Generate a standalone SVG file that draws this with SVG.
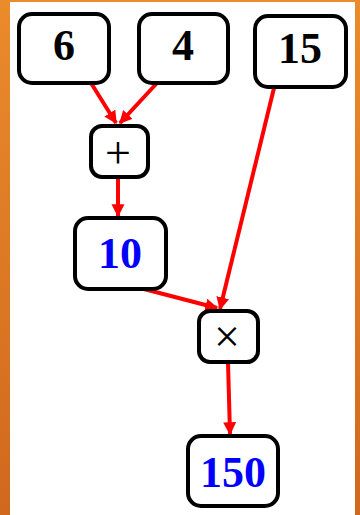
<svg xmlns="http://www.w3.org/2000/svg" width="360" height="515" viewBox="0 0 360 515">
<defs>
<linearGradient id="og" x1="0" y1="0" x2="0" y2="1">
<stop offset="0" stop-color="#EA8B2C"/>
<stop offset="1" stop-color="#D0681E"/>
</linearGradient>
<marker id="ah" viewBox="0 0 10 10" refX="9" refY="5" markerWidth="13" markerHeight="15" markerUnits="userSpaceOnUse" orient="auto">
<path d="M0,0 L10,5 L0,10 z" fill="#FF0000"/>
</marker>
<style>
.box{fill:#fff;stroke:#000;stroke-width:4}
.num{font-family:"Liberation Serif",serif;font-weight:bold;font-size:44px;text-anchor:middle}
.op{font-family:"Liberation Serif",serif;font-size:46px;text-anchor:middle;fill:#000}
.edge{stroke:#FF0000;stroke-width:4;fill:none;marker-end:url(#ah)}
</style>
</defs>
<rect x="0" y="0" width="360" height="515" fill="#fff"/>
<rect x="0" y="0" width="10" height="515" fill="url(#og)"/>
<rect x="355" y="0" width="5" height="515" fill="url(#og)"/>
<rect x="0" y="0" width="360" height="2" fill="#EA8B2C"/>
<g id="connectors">
<line class="edge" x1="91" y1="83" x2="116" y2="123"/>
<line class="edge" x1="157" y1="83" x2="120" y2="123"/>
<line class="edge" x1="118" y1="177" x2="118" y2="216"/>
<line class="edge" x1="274" y1="88" x2="220" y2="309"/>
<line class="edge" x1="144" y1="289" x2="217" y2="308"/>
<line class="edge" x1="228" y1="362" x2="230" y2="434"/>
</g>
<g id="n6"><rect class="box" x="19" y="14" width="90" height="69" rx="13"/><text class="num" x="64" y="60" fill="#000">6</text></g>
<g id="n4"><rect class="box" x="139" y="14" width="89" height="69" rx="13"/><text class="num" x="183" y="60" fill="#000">4</text></g>
<g id="n15"><rect class="box" x="255" y="16" width="91" height="71" rx="13"/><text class="num" x="300" y="63" fill="#000">15</text></g>
<g id="plus"><rect class="box" x="91" y="126" width="57" height="51" rx="11"/><text class="op" x="118" y="168">+</text></g>
<g id="n10"><rect class="box" x="75" y="218" width="91" height="71" rx="13"/><text class="num" x="120" y="268" fill="#0000FF">10</text></g>
<g id="times"><rect class="box" x="199" y="311" width="59" height="51" rx="11"/><text class="op" x="227" y="352">×</text></g>
<g id="n150"><rect class="box" x="188" y="436" width="90" height="70" rx="13"/><text class="num" x="233" y="487" fill="#0000FF">150</text></g>
</svg>
